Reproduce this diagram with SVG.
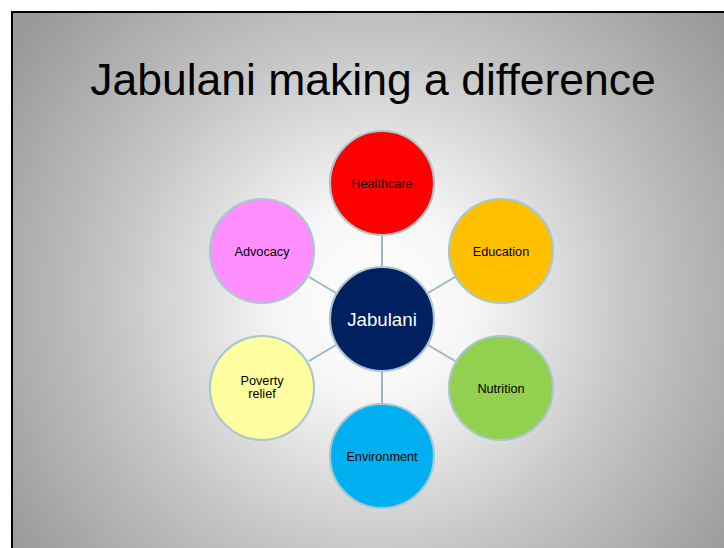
<svg xmlns="http://www.w3.org/2000/svg" width="724" height="548" viewBox="0 0 724 548">
  <defs>
    <radialGradient id="bg" gradientUnits="userSpaceOnUse" cx="375" cy="300" r="440">
      <stop offset="0" stop-color="#ffffff"/>
      <stop offset="0.22" stop-color="#f6f6f6"/>
      <stop offset="0.6" stop-color="#c4c4c4"/>
      <stop offset="1" stop-color="#999999"/>
    </radialGradient>
  </defs>
  <style>
    .node { stroke: #a9c7cf; stroke-width: 2.2; }
    .link { stroke: #98b8c0; stroke-width: 2; fill: none; }
    .lbl { font-family: "Liberation Sans", Arial, sans-serif; font-size: 12.7px; fill: #000000; text-anchor: middle; }
  </style>

  <!-- page and slide -->
  <rect x="0" y="0" width="724" height="548" fill="#ffffff"/>
  <rect x="12" y="12" width="740" height="560" fill="url(#bg)" stroke="#000000" stroke-width="2"/>

  <text x="373" y="95" font-family="Liberation Sans, Arial, sans-serif" font-size="44.5" text-anchor="middle" fill="#000000">Jabulani making a difference</text>

  <!-- connectors from the hub to each spoke -->
  <g id="connectors">
    <line class="link" x1="382" y1="266" x2="382" y2="236"/>
    <line class="link" x1="428" y1="293" x2="455" y2="277"/>
    <line class="link" x1="428" y1="345" x2="455" y2="361"/>
    <line class="link" x1="382" y1="372" x2="382" y2="403"/>
    <line class="link" x1="336" y1="345" x2="309" y2="361"/>
    <line class="link" x1="336" y1="293" x2="309" y2="277"/>
  </g>

  <g id="healthcare">
    <circle class="node" cx="382" cy="183" r="52" fill="#ff0000"/>
    <text class="lbl" x="382" y="187.5">Healthcare</text>
  </g>
  <g id="education">
    <circle class="node" cx="501" cy="251" r="52" fill="#ffc000"/>
    <text class="lbl" x="501" y="255.5">Education</text>
  </g>
  <g id="nutrition">
    <circle class="node" cx="501" cy="388" r="52" fill="#92d050"/>
    <text class="lbl" x="501" y="392.5">Nutrition</text>
  </g>
  <g id="environment">
    <circle class="node" cx="382" cy="456" r="52" fill="#00b0f0"/>
    <text class="lbl" x="382" y="460.5">Environment</text>
  </g>
  <g id="poverty-relief">
    <circle class="node" cx="262" cy="388" r="52" fill="#ffff9f"/>
    <text class="lbl" x="262" y="385">Poverty</text>
    <text class="lbl" x="262" y="398">relief</text>
  </g>
  <g id="advocacy">
    <circle class="node" cx="262" cy="251" r="52" fill="#ff8fff"/>
    <text class="lbl" x="262" y="255.5">Advocacy</text>
  </g>
  <g id="jabulani">
    <circle class="node" cx="382" cy="319" r="52" fill="#002060"/>
    <text x="382" y="325.5" font-family="Liberation Sans, Arial, sans-serif" font-size="18.7" text-anchor="middle" fill="#ffffff">Jabulani</text>
  </g>
</svg>
